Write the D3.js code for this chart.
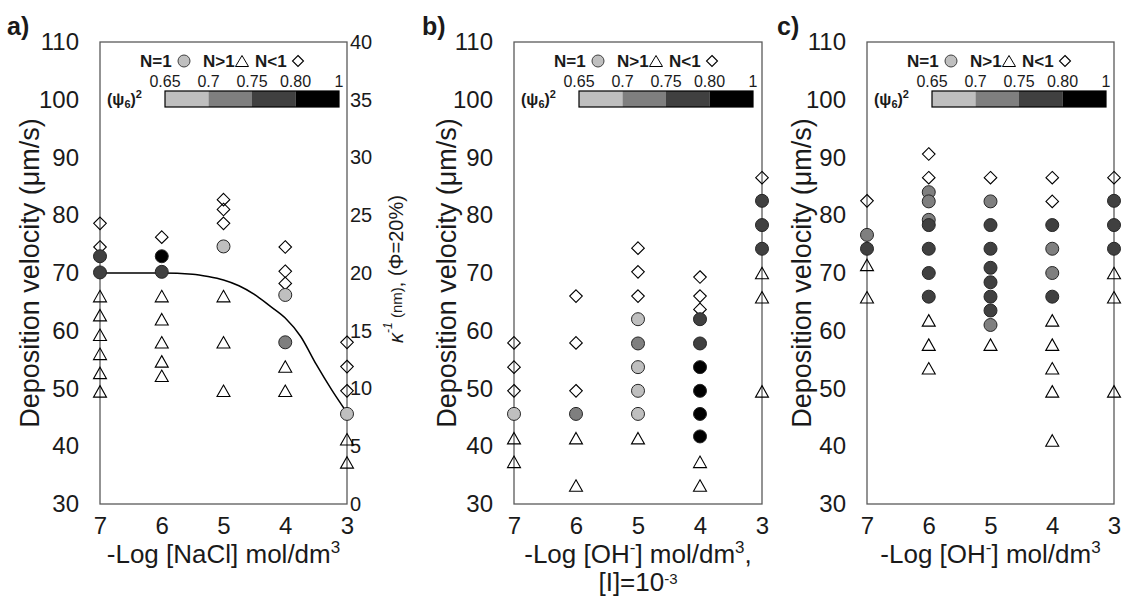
<!DOCTYPE html>
<html>
<head>
<meta charset="utf-8">
<script src="https://cdn.jsdelivr.net/npm/d3@7"></script>
<style>
  html, body { margin: 0; padding: 0; background: #fff; }
  svg { display: block; font-family: "Liberation Sans", Arial, sans-serif; }
</style>
</head>
<body>
<svg id="chart" width="1122" height="597"></svg>
<script>
// ---------- axis values ----------
const xTicks = [7, 6, 5, 4, 3];
const yTicks = [30, 40, 50, 60, 70, 80, 90, 100, 110];
const kappaTicks = [0, 5, 10, 15, 20, 25, 30, 35, 40];

// ---------- (psi6)^2 colour bands ----------
const psiEdgeLabels = ["0.65", "0.7", "0.75", "0.80", "1"];
const psiBreaks = [0.7, 0.75, 0.80];
const psiGreys = ["#bfbfbf", "#7f7f7f", "#404040", "#000000"];

// ---------- a) NaCl ----------
// N = 1 : [-log c, velocity (µm/s), (psi6)^2 band lower edge]
const naclN1 = [
  [7, 72.9, 0.75], [7, 70.1, 0.75],
  [6, 72.9, 0.80], [6, 70.2, 0.75],
  [5, 74.6, 0.65],
  [4, 66.2, 0.65], [4, 58.0, 0.70],
  [3, 45.6, 0.65]
];
// N > 1 : [-log c, velocity]
const naclNgt1 = [
  [7, 66.0], [7, 62.7], [7, 59.3], [7, 56.0], [7, 52.7], [7, 49.5],
  [6, 66.0], [6, 62.0], [6, 58.0], [6, 54.7], [6, 52.2],
  [5, 66.0], [5, 58.0], [5, 49.6],
  [4, 53.8], [4, 49.6],
  [3, 41.2], [3, 37.2]
];
// N < 1
const naclNlt1 = [
  [7, 78.6], [7, 74.5],
  [6, 76.2],
  [5, 82.7], [5, 81.0], [5, 78.6],
  [4, 74.5], [4, 70.3], [4, 68.2],
  [3, 58.0], [3, 53.8], [3, 49.6]
];
// Debye length curve (right axis, nm)
const kappaLogC = [7, 6, 5.5, 5.25, 5, 4.75, 4.5, 4.25, 4, 3.75, 3.5, 3.25, 3];
const kappaNm   = [20, 20, 19.9, 19.7, 19.4, 18.9, 18.15, 17.15, 16.1, 14.5, 12.1, 9.9, 7.9];

// ---------- b) OH- at [I] = 10^-3 ----------
const ohIonN1 = [
  [7, 45.6, 0.65],
  [6, 45.6, 0.70],
  [5, 62.0, 0.65], [5, 57.8, 0.70], [5, 53.7, 0.65], [5, 49.6, 0.65], [5, 45.6, 0.65],
  [4, 62.0, 0.75], [4, 57.8, 0.75], [4, 53.7, 0.80], [4, 49.6, 0.80], [4, 45.6, 0.80], [4, 41.7, 0.80],
  [3, 82.5, 0.75], [3, 78.3, 0.75], [3, 74.2, 0.75]
];
const ohIonNgt1 = [
  [7, 41.4], [7, 37.3],
  [6, 41.4], [6, 33.2],
  [5, 41.4],
  [4, 37.3], [4, 33.2],
  [3, 70.0], [3, 65.8], [3, 49.5]
];
const ohIonNlt1 = [
  [7, 57.9], [7, 53.7], [7, 49.6],
  [6, 66.0], [6, 57.9], [6, 49.6],
  [5, 74.3], [5, 70.2], [5, 66.0],
  [4, 69.3], [4, 66.0], [4, 63.7],
  [3, 86.5]
];

// ---------- c) OH- ----------
const ohN1 = [
  [7, 76.6, 0.70], [7, 74.2, 0.75],
  [6, 84.0, 0.70], [6, 82.4, 0.70], [6, 79.2, 0.70], [6, 78.3, 0.75], [6, 74.2, 0.75], [6, 70.0, 0.75], [6, 65.9, 0.75],
  [5, 82.4, 0.70], [5, 78.3, 0.75], [5, 74.2, 0.75], [5, 70.9, 0.75], [5, 68.4, 0.75], [5, 65.9, 0.75], [5, 63.5, 0.75], [5, 61.0, 0.70],
  [4, 78.3, 0.75], [4, 74.2, 0.70], [4, 70.0, 0.70], [4, 65.9, 0.75],
  [3, 82.5, 0.75], [3, 78.3, 0.75], [3, 74.2, 0.75]
];
const ohNgt1 = [
  [7, 71.4], [7, 65.8],
  [6, 61.8], [6, 57.6], [6, 53.5],
  [5, 57.6],
  [4, 61.8], [4, 57.6], [4, 53.5], [4, 49.5], [4, 41.0],
  [3, 70.0], [3, 65.8], [3, 49.5]
];
const ohNlt1 = [
  [7, 82.5],
  [6, 90.6], [6, 86.5],
  [5, 86.5],
  [4, 86.5], [4, 82.4],
  [3, 86.5]
];

// ---------- layout ----------
const TOP = 42, BOTTOM = 504;
const FRAME = "#5a5a5a";
const INK = "#1a1a1a";
const svg = d3.select("#chart");
const psiColor = d3.scaleThreshold().domain(psiBreaks).range(psiGreys);

const trianglePath = (w, h) => `M0,${-h / 2}L${w / 2},${h / 2}L${-w / 2},${h / 2}Z`;
const diamondPath = r => `M0,${-r}L${r},0L0,${r}L${-r},0Z`;

const panels = [
  { letter: "a)", letterX: 7, left: 100, right: 347, yTitleX: 30,
    n1: naclN1, ngt1: naclNgt1, nlt1: naclNlt1, kappa: true,
    title: [[["-Log [NaCl] mol/dm"], ["3", "sup"]]] },
  { letter: "b)", letterX: 422, left: 514, right: 762, yTitleX: 447,
    n1: ohIonN1, ngt1: ohIonNgt1, nlt1: ohIonNlt1, kappa: false,
    title: [[["-Log [OH"], ["-", "sup"], ["] mol/dm"], ["3", "sup"], [","]],
            [["[I]=10"], ["-3", "sup"]]] },
  { letter: "c)", letterX: 777, left: 867, right: 1114, yTitleX: 802,
    n1: ohN1, ngt1: ohNgt1, nlt1: ohNlt1, kappa: false,
    title: [[["-Log [OH"], ["-", "sup"], ["] mol/dm"], ["3", "sup"]]] }
];

// text with raised superscript pieces
function addRich(textSel, parts, size, supSize, supShift) {
  let shift = 0;
  parts.forEach(([s, kind]) => {
    const t = textSel.append("tspan").text(s);
    const target = kind === "sup" ? -supShift : 0;
    if (target !== shift) t.attr("dy", target - shift);
    t.attr("font-size", kind === "sup" ? supSize : size);
    shift = target;
  });
}

panels.forEach(p => {
  const g = svg.append("g");
  const x = d3.scaleLinear().domain([7, 3]).range([p.left, p.right]);
  const y = d3.scaleLinear().domain([30, 110]).range([BOTTOM, TOP]);

  // frame
  g.append("rect")
    .attr("x", p.left).attr("y", TOP)
    .attr("width", p.right - p.left).attr("height", BOTTOM - TOP)
    .attr("fill", "none").attr("stroke", FRAME).attr("stroke-width", 1.3);

  // left axis labels
  const ya = g.append("g").attr("transform", `translate(${p.left},0)`)
    .call(d3.axisLeft(y).tickValues(yTicks).tickSize(0).tickPadding(21));
  ya.select(".domain").remove();
  ya.selectAll("text").attr("font-size", 24).attr("fill", INK);
  ya.attr("font-family", null);

  // bottom axis labels
  const xa = g.append("g").attr("transform", `translate(0,${BOTTOM})`)
    .call(d3.axisBottom(x).tickValues(xTicks).tickSize(0).tickPadding(13).tickFormat(d3.format("d")));
  xa.select(".domain").remove();
  xa.selectAll("text").attr("font-size", 24).attr("fill", INK);
  xa.attr("font-family", null);

  // y title
  g.append("text")
    .attr("transform", `translate(${p.yTitleX},${(TOP + BOTTOM) / 2}) rotate(-90)`)
    .attr("text-anchor", "middle").attr("dominant-baseline", "central")
    .attr("font-size", 27).attr("fill", INK)
    .text("Deposition velocity (\u03bcm/s)");

  // x title (second line sits lower, with a smaller superscript)
  p.title.forEach((line, i) => {
    const t = g.append("text")
      .attr("x", (p.left + p.right) / 2).attr("y", 563 + i * 28)
      .attr("text-anchor", "middle").attr("fill", INK);
    if (i === 0) addRich(t, line, 26, 17, 10);
    else addRich(t, line, 26, 15, 7);
  });

  // panel letter
  g.append("text").attr("x", p.letterX).attr("y", 35)
    .attr("font-size", 25).attr("font-weight", "bold").attr("fill", INK).text(p.letter);

  // right axis + Debye length curve
  if (p.kappa) {
    const k = d3.scaleLinear().domain([0, 40]).range([BOTTOM, TOP]);
    const ka = g.append("g").attr("transform", `translate(${p.right},0)`)
      .call(d3.axisRight(k).tickValues(kappaTicks).tickSize(0).tickPadding(3));
    ka.select(".domain").remove();
    ka.selectAll("text").attr("font-size", 20).attr("fill", INK);
    ka.attr("font-family", null);

    const kt = g.append("text")
      .attr("transform", `translate(${p.right + 49},${(TOP + BOTTOM) / 2 - 4}) rotate(-90)`)
      .attr("text-anchor", "middle").attr("dominant-baseline", "central").attr("fill", INK);
    kt.append("tspan").attr("font-size", 20).attr("font-style", "italic").text("\u03ba");
    kt.append("tspan").attr("font-size", 12).attr("font-style", "italic").attr("dy", -8).text("-1");
    kt.append("tspan").attr("font-size", 15).attr("dy", 8).text(" (nm)");
    kt.append("tspan").attr("font-size", 20).text(", (\u03a6=20%)");

    const line = d3.line().x(d => x(d[0])).y(d => k(d[1])).curve(d3.curveMonotoneX);
    g.append("path").datum(d3.zip(kappaLogC, kappaNm))
      .attr("d", line).attr("fill", "none").attr("stroke", "#000").attr("stroke-width", 1.5);
  }

  // N > 1 triangles
  g.append("g").selectAll("path").data(p.ngt1).join("path")
    .attr("transform", d => `translate(${x(d[0])},${y(d[1])})`)
    .attr("d", trianglePath(13, 11.5))
    .attr("fill", "none").attr("stroke", "#000").attr("stroke-width", 1.1);

  // N < 1 diamonds
  g.append("g").selectAll("path").data(p.nlt1).join("path")
    .attr("transform", d => `translate(${x(d[0])},${y(d[1])})`)
    .attr("d", diamondPath(6.3))
    .attr("fill", "none").attr("stroke", "#000").attr("stroke-width", 1.1);

  // N = 1 circles shaded by (psi6)^2
  g.append("g").selectAll("circle").data(p.n1).join("circle")
    .attr("cx", d => x(d[0])).attr("cy", d => y(d[1])).attr("r", 6.5)
    .attr("fill", d => psiColor(d[2])).attr("stroke", "#262626").attr("stroke-width", 1);

  // legend
  const L = p.left;
  const lg = g.append("g").attr("font-weight", "bold").attr("font-size", 17).attr("fill", INK);
  lg.append("text").attr("x", L + 40).attr("y", 67).text("N=1");
  lg.append("text").attr("x", L + 103).attr("y", 67).text("N>1");
  lg.append("text").attr("x", L + 155).attr("y", 67).text("N<1");
  g.append("circle").attr("cx", L + 84).attr("cy", 61).attr("r", 6)
    .attr("fill", psiGreys[0]).attr("stroke", "#404040").attr("stroke-width", 1);
  g.append("path").attr("transform", `translate(${L + 142},61)`).attr("d", trianglePath(13, 11))
    .attr("fill", "none").attr("stroke", "#000").attr("stroke-width", 1);
  g.append("path").attr("transform", `translate(${L + 198},61)`).attr("d", diamondPath(5.5))
    .attr("fill", "none").attr("stroke", "#000").attr("stroke-width", 1.1);

  // colour bar
  const cb = d3.scalePoint().domain(psiEdgeLabels).range([L + 65, L + 239]);
  const bands = d3.pairs(psiEdgeLabels);
  g.append("g").selectAll("rect").data(bands).join("rect")
    .attr("x", d => cb(d[0])).attr("y", 91)
    .attr("width", d => cb(d[1]) - cb(d[0])).attr("height", 16)
    .attr("fill", (d, i) => psiGreys[i]);
  g.append("rect").attr("x", L + 65).attr("y", 91).attr("width", 174).attr("height", 16)
    .attr("fill", "none").attr("stroke", "#000").attr("stroke-width", 1.2);
  g.append("g").selectAll("text").data(psiEdgeLabels).join("text")
    .attr("x", d => cb(d)).attr("y", 87).attr("text-anchor", "middle")
    .attr("font-size", 16).attr("fill", INK).text(d => d);

  const pl = g.append("text").attr("x", L + 7).attr("y", 105)
    .attr("font-size", 16).attr("font-weight", "bold").attr("fill", INK);
  pl.append("tspan").text("(\u03c8");
  pl.append("tspan").attr("font-size", 11).attr("dy", 3).text("6");
  pl.append("tspan").attr("dy", -3).text(")");
  pl.append("tspan").attr("font-size", 11).attr("dy", -7).text("2");
});
</script>
</body>
</html>
